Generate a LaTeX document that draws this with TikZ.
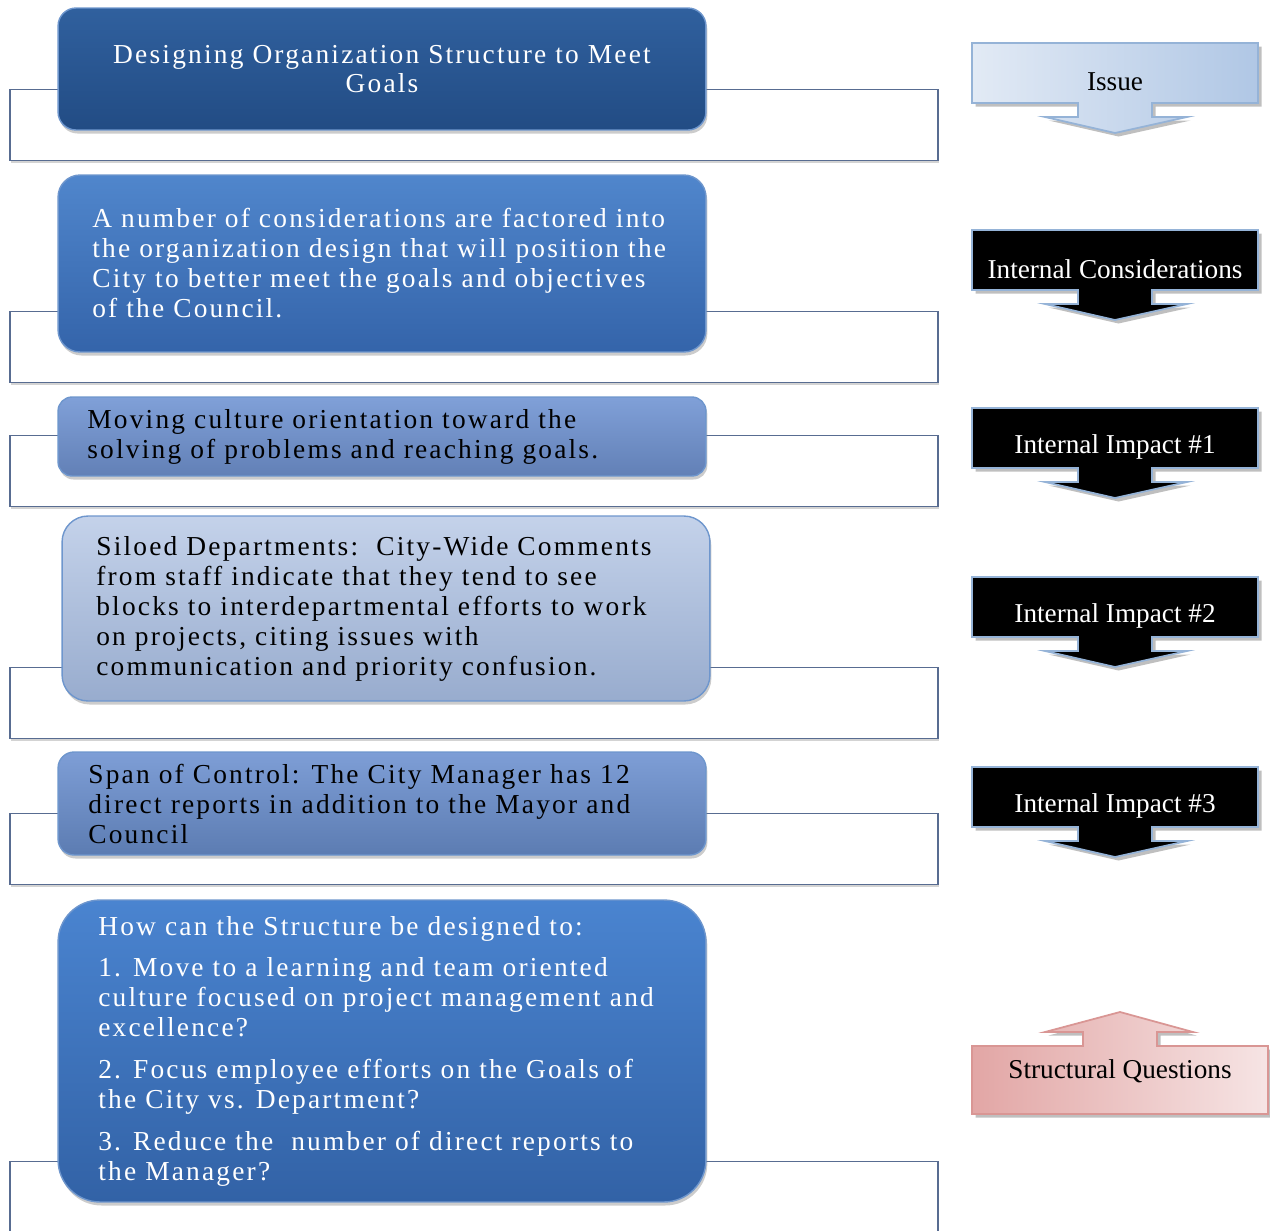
\documentclass[tikz,border=0pt]{standalone}
\usepackage{fontspec}
\setmainfont{Liberation Serif}
\newfontfamily\boxfont[LetterSpace=8]{Liberation Serif}
\usetikzlibrary{shadows}

\definecolor{paneline}{RGB}{88,108,145}
\definecolor{arrowrim}{RGB}{149,179,215}
\definecolor{boxrim}{RGB}{110,150,205}
\definecolor{pinkrim}{RGB}{217,150,148}

\begin{document}
\begin{tikzpicture}[x=0.02cm, y=-0.02cm,
	panel/.style={draw=paneline, line width=0.8pt, fill=white, minimum width=18.56cm, minimum height=1.42cm,
		drop shadow={shadow xshift=0.6pt, shadow yshift=-1.5pt, opacity=0.35}},
	bluebox/.style={draw=boxrim, line width=0.8pt, minimum width=12.96cm,
		drop shadow={shadow xshift=0.8pt, shadow yshift=-2pt, opacity=0.4}},
	boxtext/.style={font=\boxfont\fontsize{15.6}{17}\selectfont, align=left, inner sep=0pt, anchor=west},
	issue arrow/.style={draw=arrowrim, line width=1pt, left color={rgb,255:red,226;green,234;blue,245}, right color={rgb,255:red,176;green,199;blue,229},
		drop shadow={shadow xshift=2pt, shadow yshift=-2pt, fill=gray, opacity=0.5}},
	dark arrow/.style={draw=arrowrim, line width=1pt, fill=black,
		drop shadow={shadow xshift=2pt, shadow yshift=-2pt, fill=gray, opacity=0.5}},
	issue label/.style={font=\fontsize{15.5}{18}\selectfont, text=black},
	dark label/.style={font=\fontsize{15.5}{18}\selectfont, text=white}
	]
	\useasboundingbox (0,0) rectangle (1270,1230);

	% white panels behind the boxes
	\foreach \c/\nm in {125/goalpanel, 347/considerpanel, 471/culturepanel, 703/siloedpanel, 849/spanpanel, 1197/questionspanel}
		\node[panel] (\nm) at (474,\c) {};

	% blue boxes
	\node[bluebox, rounded corners=0.36cm, minimum height=2.44cm, top color={rgb,255:red,48;green,96;blue,158}, bottom color={rgb,255:red,34;green,76;blue,132}] (goal) at (382,69) {};
	\node[bluebox, rounded corners=0.44cm, minimum height=3.54cm, top color={rgb,255:red,80;green,134;blue,204}, bottom color={rgb,255:red,52;green,100;blue,170}] (consider) at (382,263.5) {};
	\node[bluebox, rounded corners=0.28cm, minimum height=1.58cm, top color={rgb,255:red,128;green,160;blue,216}, bottom color={rgb,255:red,98;green,128;blue,182}] (culture) at (382,436.5) {};
	\node[bluebox, rounded corners=0.52cm, minimum height=3.7cm, top color={rgb,255:red,196;green,210;blue,234}, bottom color={rgb,255:red,152;green,172;blue,206}] (siloed) at (386,608.5) {};
	\node[bluebox, rounded corners=0.32cm, minimum height=2.06cm, top color={rgb,255:red,126;green,158;blue,214}, bottom color={rgb,255:red,92;green,124;blue,178}] (span) at (382,803.5) {};
	\node[bluebox, rounded corners=0.84cm, minimum height=6.04cm, top color={rgb,255:red,74;green,132;blue,208}, bottom color={rgb,255:red,50;green,98;blue,166}] (questions) at (382,1051) {};

	% box texts
	\node[boxtext, anchor=center, align=center, text=white] (goaltext) at (goal.center) {Designing Organization Structure to Meet\\Goals};
	\node[boxtext, text=white] (considertext) at (92,263) {A number of considerations are factored into\\the organization design that will position the\\City to better meet the goals and objectives\\of the Council.};
	\node[boxtext] (culturetext) at (87,437) {Moving culture orientation toward the\\solving of problems and reaching goals.};
	\node[boxtext] (siloedtext) at (96,609) {Siloed Departments:~~City-Wide Comments\\from staff indicate that they tend to see\\blocks to interdepartmental efforts to work\\on projects, citing issues with\\communication and priority confusion.};
	\node[boxtext] (spantext) at (88,804) {Span of Control: The City Manager has 12\\direct reports in addition to the Mayor and\\Council};
	\node[boxtext, text=white] (questionstext) at (98,1051) {How can the Structure be designed to:\\[0.24cm]1. Move to a learning and team oriented\\culture focused on project management and\\excellence?\\[0.24cm]2. Focus employee efforts on the Goals of\\the City vs. Department?\\[0.24cm]3. Reduce the~~number of direct reports to\\the Manager?};

	% arrows on the right
	\foreach \y/\lbl/\sty/\nm in {43/Issue/issue/issue, 230/Internal Considerations/dark/intcons, 408/Internal Impact \#1/dark/impactone, 577/Internal Impact \#2/dark/impacttwo, 767/Internal Impact \#3/dark/impactthree}
	{
		\draw[\sty\space arrow] (972,\y) -- (1258,\y) -- (1258,\y+60) -- (1152,\y+60) -- (1152,\y+74) -- (1187,\y+74) -- (1115,\y+90)
			-- (1045,\y+74) -- (1078,\y+74) -- (1078,\y+60) -- (972,\y+60) -- cycle;
		\node[\sty\space label] (\nm) at (1115,\y+39) {\lbl};
	}

	\draw[draw=pinkrim, line width=1pt, shading angle=60, left color={rgb,255:red,226;green,166;blue,165}, right color={rgb,255:red,246;green,228;blue,228},
		drop shadow={shadow xshift=2pt, shadow yshift=-2pt, fill=gray, opacity=0.5}]
		(972,1046) -- (1083,1046) -- (1083,1032) -- (1045,1032) -- (1120,1012) -- (1193,1032) -- (1157,1032) -- (1157,1046)
		-- (1268,1046) -- (1268,1114) -- (972,1114) -- cycle;
	\node[issue label] (structural) at (1120,1071) {Structural Questions};
\end{tikzpicture}
\end{document}
